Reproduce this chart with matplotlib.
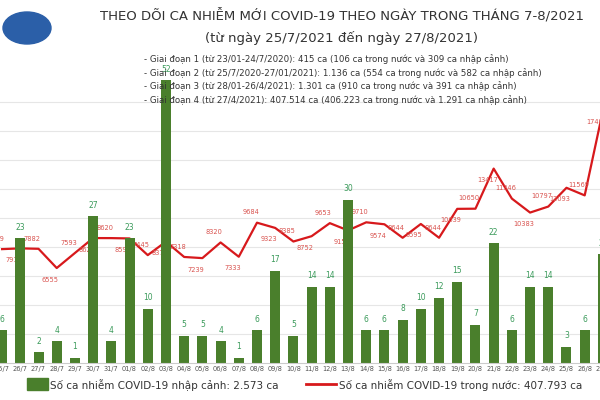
import matplotlib
matplotlib.use("Agg")
import matplotlib.pyplot as plt
import numpy as np

dates = ["25/7", "26/7", "27/7", "28/7", "29/7", "30/7", "31/7", "01/8", "02/8", "03/8",
         "04/8", "05/8", "06/8", "07/8", "08/8", "09/8", "10/8", "11/8", "12/8", "13/8",
         "14/8", "15/8", "16/8", "17/8", "18/8", "19/8", "20/8", "21/8", "22/8", "23/8",
         "24/8", "25/8", "26/8", "27/8"]
imported = [6, 23, 2, 4, 1, 27, 4, 23, 10, 52, 5, 5, 4, 1, 6, 17, 5, 14, 14, 30,
            6, 6, 8, 10, 12, 15, 7, 22, 6, 14, 14, 3, 6, 20]
domestic = [7859, 7911, 7882, 6555, 7593, 8622, 8620, 8597, 7445, 8377,
            7318, 7239, 8320, 7333, 9684, 9323, 8385, 8752, 9653, 9150,
            9710, 9574, 8644, 9595, 8644, 10639, 10650, 13417, 11346, 10383,
            10797, 12093, 11569, 17409]

green = "#4a7f2c"
red = "#d7191c"

fig = plt.figure(figsize=(6, 4), dpi=100)
ax = fig.add_axes([-7 / 600, 1 - 363 / 400, 619 / 600, 326 / 400])
x = np.arange(len(dates))
ax.bar(x, imported, width=0.55, color=green, zorder=2)
ax.set_ylim(0, 60)
ax.set_xlim(-0.5, len(dates) - 0.5)
for i, v in enumerate(imported):
    ax.text(i, v + 1.2, str(v), ha="center", va="bottom", fontsize=5.5, color="#3a9a5a")
ax.set_xticks(x)
ax.set_xticklabels(dates, fontsize=4.8, color="#555555")
ax.tick_params(length=0, pad=2)
ax.set_yticks([])
for s in ax.spines.values():
    s.set_visible(False)
ax.spines["bottom"].set_visible(True)
ax.spines["bottom"].set_color("#cccccc")

ax2 = ax.twinx()
ax2.set_ylim(0, 22500)
ax2.set_yticks(range(2000, 18001, 2000))
ax2.yaxis.grid(True, color="#e6e6e6", linewidth=0.8)
ax2.tick_params(right=False, labelright=False)
ax2.set_axisbelow(True)
ax.set_zorder(ax2.get_zorder() + 1)
ax.patch.set_visible(False)
for s in ax2.spines.values():
    s.set_visible(False)
ax2.plot(x, domestic, color=red, linewidth=1.6, zorder=3)
for i, v in enumerate(domestic):
    off = 500 if i % 2 == 0 else -1000
    ax2.text(i - 0.35, v + off, str(v), ha="center", va="bottom", fontsize=4.8, color="#d9534f")

fig.text(0.57, 0.948, "THEO DÕI CA NHIỄM MỚI COVID-19 THEO NGÀY TRONG THÁNG 7-8/2021",
         ha="center", fontsize=9.5, color="#333333")
fig.text(0.57, 0.895, "(từ ngày 25/7/2021 đến ngày 27/8/2021)", ha="center", fontsize=9.5, color="#333333")
lines = ["- Giai đoạn 1 (từ 23/01-24/7/2020): 415 ca (106 ca trong nước và 309 ca nhập cảnh)",
         "- Giai đoạn 2 (từ 25/7/2020-27/01/2021): 1.136 ca (554 ca trong nước và 582 ca nhập cảnh)",
         "- Giai đoạn 3 (từ 28/01-26/4/2021): 1.301 ca (910 ca trong nước và 391 ca nhập cảnh)",
         "- Giai đoạn 4 (từ 27/4/2021): 407.514 ca (406.223 ca trong nước và 1.291 ca nhập cảnh)"]
for k, t in enumerate(lines):
    fig.text(0.24, 0.845 - k * 0.034, t, fontsize=6.2, color="#333333")

# logo placeholder
fig.patches.append(plt.Circle((0.045, 0.93), 0.04, transform=fig.transFigure,
                              facecolor="#2b5fa8", edgecolor="#2b5fa8"))

# legend
fig.patches.append(plt.Rectangle((0.045, 0.025), 0.035, 0.03, transform=fig.transFigure, color=green))
fig.text(0.083, 0.027, "Số ca nhiễm COVID-19 nhập cảnh: 2.573 ca", fontsize=7.5, color="#333333")
fig.lines.append(plt.Line2D([0.51, 0.56], [0.04, 0.04], transform=fig.transFigure, color=red, lw=2))
fig.text(0.565, 0.027, "Số ca nhiễm COVID-19 trong nước: 407.793 ca", fontsize=7.5, color="#333333")

fig.savefig("out.png", dpi=100)
